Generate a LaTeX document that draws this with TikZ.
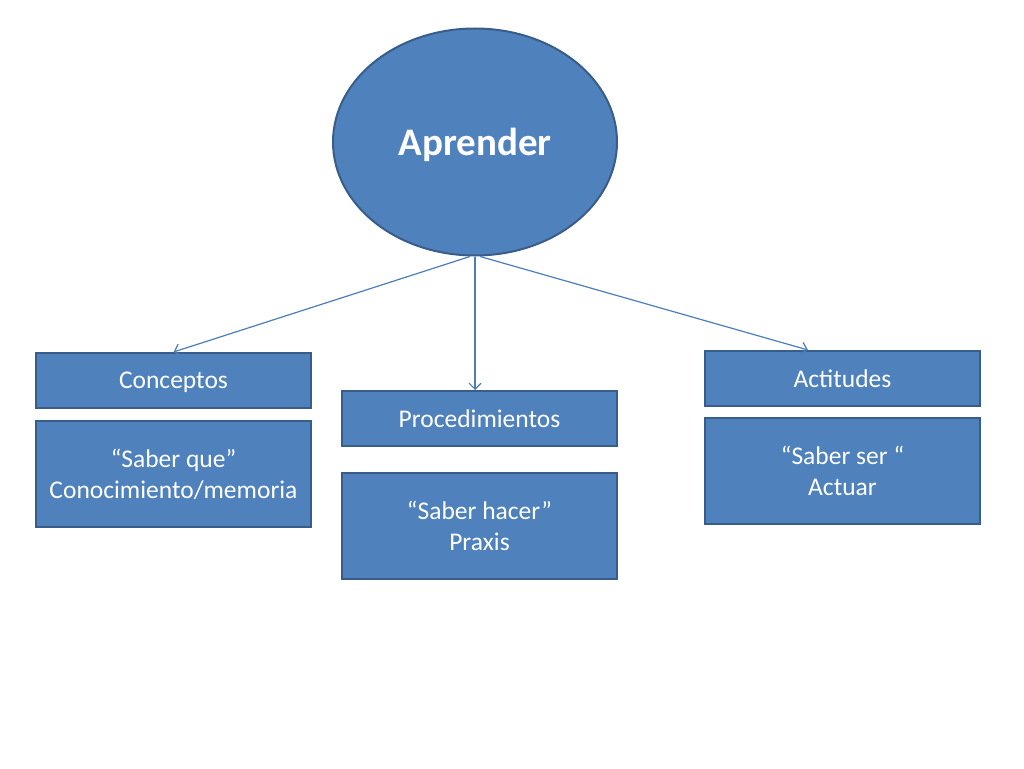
\documentclass[tikz,border=0pt]{standalone}
\usepackage{fontspec}
\setmainfont{Carlito}
\usetikzlibrary{arrows.meta,shapes.geometric}
\definecolor{boxfill}{HTML}{4F81BD}
\definecolor{boxline}{HTML}{385D8A}
\definecolor{linkline}{HTML}{4A7EBB}
\begin{document}
\begin{tikzpicture}[x=1pt,y=-1pt,
    >={Straight Barb[length=6pt,width=12pt]},
    box/.style={draw=boxline, line width=2pt, fill=boxfill, text=white, text depth=0pt,
      minimum width=275pt, align=center, font=\fontsize{25.5}{31}\selectfont},
    link/.style={->, draw=linkline, line width=1.2pt}]
    \useasboundingbox (0,0) rectangle (1024,768);
    \node[ellipse, draw=boxline, line width=2pt, fill=boxfill, text=white, text depth=0pt,
      minimum width=284pt, minimum height=227pt,
      font=\fontsize{39}{44}\selectfont\bfseries] (apr) at (475,142) {Aprender};
    \node[box, minimum height=55pt] (con) at (173.5,380.5) {Conceptos};
    \node[box, minimum height=106pt] (conq) at (173.5,474) {“Saber que”\\Conocimiento/memoria};
    \node[box, minimum height=55pt] (pro) at (479.5,418.5) {Procedimientos};
    \node[box, minimum height=106pt] (proq) at (479.5,526) {“Saber hacer”\\Praxis};
    \node[box, minimum height=55pt] (act) at (842.5,378.5) {Actitudes};
    \node[box, minimum height=106pt] (actq) at (842.5,471) {“Saber ser “\\Actuar};
    \draw[link] ([xshift=-5pt]apr.south) -- (con.north);
    \draw[link] (apr.south) -- ([xshift=-4.5pt]pro.north);
    \draw[link] ([xshift=5pt]apr.south) -- ([xshift=-34.5pt]act.north);
  \end{tikzpicture}
\end{document}
